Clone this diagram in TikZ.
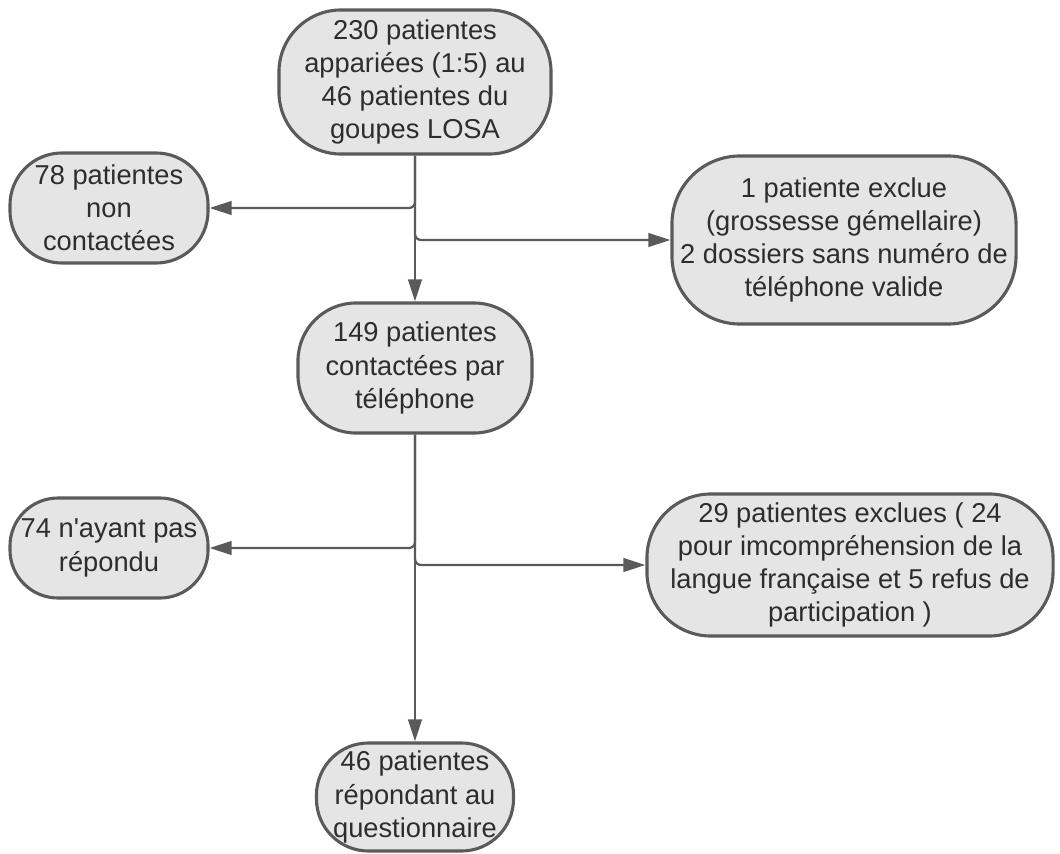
\documentclass[tikz,border=0pt]{standalone}
\usepackage{fontspec}
\setmainfont{Liberation Sans}
\usetikzlibrary{arrows.meta,positioning}
\definecolor{boxfill}{RGB}{229,229,229}
\definecolor{boxline}{RGB}{90,90,90}
\definecolor{txtgray}{RGB}{45,45,45}
\tikzset{>={Triangle[length=0.55cm,width=0.34cm]}}

\begin{document}
\begin{tikzpicture}[x=0.025cm, y=-0.025cm, box/.style={draw=boxline, fill=boxfill, line width=2.2pt, rounded corners=#1, align=center, inner sep=0pt, text=txtgray, font=\fontsize{19.4}{23.6}\selectfont}, box/.default=1.2cm, link/.style={boxline, line width=1.6pt, ->, rounded corners=0.15cm}]

    \useasboundingbox (0,0) rectangle (1060,854);

    % Boxes
    \node[box=1.55cm, minimum width=6.8cm, minimum height=3.6cm] (apparies) at (415,82) {230 patientes\\appariées (1:5) au\\46 patientes du\\goupes LOSA};
    \node[box=1.3cm, minimum width=4.95cm, minimum height=2.75cm] (noncontact) at (109,208) {78 patientes\\non\\contactées};
    \node[box=1.7cm, minimum width=8.6cm, minimum height=4.2cm] (exclue) at (844,240) {1 patiente exclue\\(grossesse gémellaire)\\2 dossiers sans numéro de\\téléphone valide};
    \node[box=1.45cm, minimum width=5.85cm, minimum height=3.25cm] (contact) at (415,368) {149 patientes\\contactées par\\téléphone};
    \node[box, minimum width=4.95cm, minimum height=2.5cm] (nonrep) at (109,548) {74 n\textquotesingle ayant pas\\répondu};
    \node[box=1.6cm, minimum width=10.15cm, minimum height=3.55cm] (exclues) at (850,565) {29 patientes exclues ( 24\\pour imcompréhension de la\\langue française et 5 refus de\\participation )};
    \node[box=1.3cm, minimum width=4.925cm, minimum height=2.7cm] (repond) at (415,797) {46 patientes\\répondant au\\questionnaire};

    % Arrows
    \draw[link] (apparies.south) |- (noncontact.east);
    \draw[link] (apparies.south) |- (exclue.west);
    \draw[link] (apparies) -- (contact);

    \draw[link] (contact.south) |- (nonrep.east);
    \draw[link] (contact.south) |- (exclues.west);
    \draw[link] (contact) -- (repond);
\end{tikzpicture}
\end{document}
